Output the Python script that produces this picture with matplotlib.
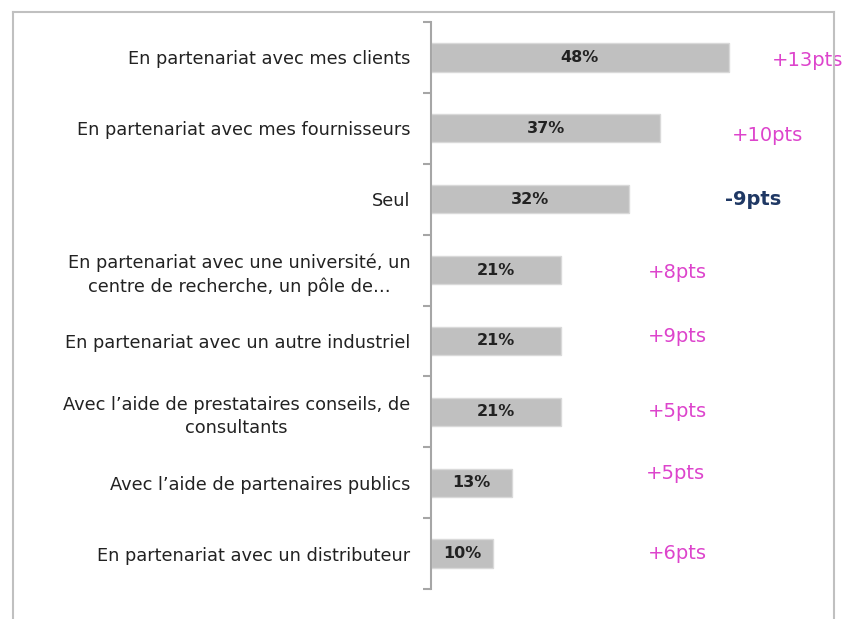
import numpy as np
import matplotlib
matplotlib.use("Agg")
import matplotlib.pyplot as plt
from matplotlib.lines import Line2D

# ------------------------------------------------------------
# Data
# ------------------------------------------------------------
labels = [
    "En partenariat avec mes clients",
    "En partenariat avec mes fournisseurs",
    "Seul",
    "En partenariat avec une université, un\ncentre de recherche, un pôle de…",
    "En partenariat avec un autre industriel",
    "Avec l’aide de prestataires conseils, de\nconsultants",
    "Avec l’aide de partenaires publics",
    "En partenariat avec un distributeur",
]
values = [48, 37, 32, 21, 21, 21, 13, 10]
deltas = ["+13pts", "+10pts", "-9pts", "+8pts", "+9pts", "+5pts", "+5pts", "+6pts"]

# layout of the delta notes (data units)
delta_x = [55, 48.5, 47.4, 35, 35, 35, 34.7, 35]
delta_dy = [0.05, 0.1, 0.0, 0.04, -0.06, 0.0, -0.13, 0.0]

PINK = "#dd44cc"
NAVY = "#1f3864"
GREY = "#c0c0c0"

# ------------------------------------------------------------
# Figure
# ------------------------------------------------------------
fig = plt.figure(figsize=(8.44, 6.19), dpi=100)
ax = fig.add_axes([431 / 844, 1 - 589 / 619, 372 / 844, (589 - 22) / 619])

y = np.arange(len(values))
bars = ax.barh(y, values, height=0.4, color=GREY, edgecolor="#d9d9d9", linewidth=1)

ax.set_xlim(0, 60)
ax.set_ylim(len(values) - 0.5, -0.5)

# value labels inside bars
for b, v in zip(bars, values):
    ax.text(v / 2, b.get_y() + b.get_height() / 2, f"{v}%", ha="center", va="center",
            fontsize=11.5, fontweight="bold", color="#222222")

# delta notes on the right
for i, d in enumerate(deltas):
    neg = d.startswith("-")
    ax.text(delta_x[i], y[i] + delta_dy[i], d, ha="left", va="center", fontsize=14,
            color=NAVY if neg else PINK, fontweight="bold" if neg else "normal",
            clip_on=False)

# axes styling
for s in ["top", "right", "bottom"]:
    ax.spines[s].set_visible(False)
ax.spines["left"].set_color("#a6a6a6")
ax.spines["left"].set_linewidth(1.5)
ax.set_xticks([])
ax.set_yticks(y)
ax.set_yticklabels(labels, fontsize=12.8, color="#222222", multialignment="center",
                   linespacing=1.35)
ax.tick_params(axis="y", which="major", length=0, pad=15)
ax.set_yticks(np.arange(-0.5, len(values), 1), minor=True)
ax.tick_params(axis="y", which="minor", length=6, width=1.5, color="#a6a6a6")

# outer frame
fc = "#c0c0c0"
fig.add_artist(Line2D([13 / 844, 834 / 844], [1 - 12 / 619, 1 - 12 / 619], color=fc, lw=1.5, zorder=5))
fig.add_artist(Line2D([13 / 844, 13 / 844], [1 - 12 / 619, 0], color=fc, lw=1.5, zorder=5))
fig.add_artist(Line2D([834 / 844, 834 / 844], [1 - 12 / 619, 0], color=fc, lw=1.5, zorder=5))

fig.savefig("out.png", dpi=100)
